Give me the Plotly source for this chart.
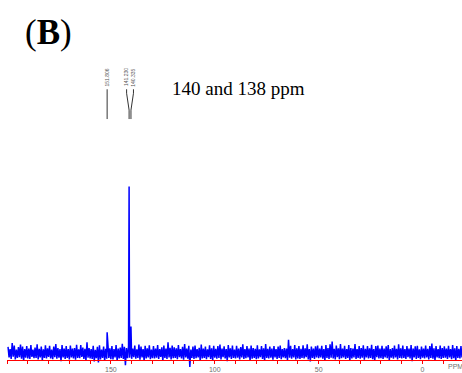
import numpy as np
import plotly.graph_objects as go

# 13C spectrum: upper and lower noise excursions, sampled every 1 ppm
# (upper from 199.5 ppm down, lower from 199.0 ppm down)
noise_hi = [
    3.8, 2.4, 6.0, 4.6, 2.2, 3.6, 5.1, 3.9, 2.5, 4.3,
    2.7, 4.8, 2.1, 3.3, 5.3, 2.6, 4.0, 2.3, 4.7, 2.9,
    4.4, 2.2, 3.9, 5.4, 3.1, 2.5, 4.8, 2.7, 4.2, 2.4,
    4.6, 2.8, 3.1, 5.0, 2.3, 4.9, 3.3, 2.6, 6.5, 3.0,
    2.5, 4.4, 2.0, 3.8, 4.7, 2.2, 4.0, 2.6, 5.2, 2.9,
    4.2, 2.4, 4.9, 2.7, 3.3, 5.6, 3.8, 3.0, 4.2, 3.1,
    2.8, 4.6, 2.3, 5.1, 4.0, 2.5, 4.4, 2.9, 4.7, 2.2,
    4.3, 2.7, 4.9, 2.4, 3.5, 4.6, 2.8, 6.5, 3.2, 4.6,
    3.5, 2.9, 4.8, 2.4, 3.8, 5.5, 2.7, 4.4, 2.2, 4.0,
    4.6, 2.5, 3.2, 5.1, 2.8, 4.0, 2.3, 4.7, 2.9, 4.4,
    2.6, 4.3, 5.2, 2.7, 4.1, 2.4, 4.8, 2.9, 4.5, 2.2,
    4.4, 2.8, 3.6, 5.3, 2.5, 4.2, 2.7, 4.6, 3.1, 2.6,
    4.7, 2.3, 4.3, 2.9, 5.5, 2.6, 4.0, 2.8, 4.2, 2.5,
    4.0, 4.6, 2.4, 3.1, 2.7, 8.0, 4.4, 2.5, 4.8, 2.9,
    4.2, 2.6, 4.7, 2.9, 5.3, 2.4, 3.9, 2.8, 4.1, 4.5,
    2.7, 4.4, 2.5, 4.8, 3.0, 5.3, 7.0, 2.6, 4.6, 2.9,
    5.5, 2.8, 4.4, 2.5, 4.9, 3.1, 2.7, 5.5, 2.4, 4.2,
    3.0, 4.7, 2.6, 4.3, 2.9, 5.0, 2.5, 4.2, 4.6, 2.8,
    4.4, 2.7, 4.1, 4.8, 2.4, 3.0, 4.5, 2.6, 5.3, 2.9,
    4.6, 2.5, 4.2, 2.8, 4.9, 2.7, 4.1, 4.4, 2.3, 4.0,
    2.8, 4.5, 2.6, 4.3, 5.7, 2.9, 4.2, 2.4, 4.6, 3.0,
    4.1, 2.7, 4.4, 2.5, 4.8, 2.9, 4.3, 2.6, 4.2,
]
noise_lo = [
    -2.6, -3.4, -2.1, -3.8, -2.9, -2.4, -3.3, -4.6, -2.7, -3.1,
    -3.5, -2.3, -3.0, -2.8, -3.7, -2.5, -4.4, -2.9, -3.2, -2.2,
    -3.1, -3.6, -2.4, -3.3, -2.7, -4.8, -2.6, -3.4, -2.9, -3.8,
    -2.5, -3.2, -3.9, -2.8, -3.0, -2.3, -3.5, -4.5, -2.7, -3.1,
    -3.4, -4.9, -3.0, -5.5, -3.7, -2.9, -4.6, -3.3, -2.8, -3.6,
    -3.8, -2.6, -4.7, -3.1, -2.9, -3.5, -7.2, -3.0, -2.7, -3.4,
    -2.4, -3.3, -2.8, -3.9, -2.6, -4.5, -3.1, -2.5, -3.6, -3.0,
    -3.2, -2.7, -3.5, -2.3, -4.6, -2.9, -3.4, -2.6, -3.8, -3.0,
    -2.8, -3.6, -2.4, -3.1, -3.9, -2.6, -3.3, -8.3, -2.9, -3.5,
    -3.0, -2.5, -4.7, -3.2, -2.8, -3.6, -2.4, -3.4, -4.4, -2.7,
    -3.3, -2.9, -3.7, -2.4, -3.1, -4.8, -2.6, -3.5, -2.8, -3.2,
    -2.7, -3.8, -2.5, -3.4, -3.0, -2.6, -4.5, -3.3, -2.9, -3.6,
    -3.1, -2.4, -3.5, -4.6, -2.8, -3.2, -2.7, -3.9, -2.5, -3.4,
    -2.9, -3.6, -2.6, -3.0, -4.4, -2.7, -3.3, -2.5, -3.8, -3.1,
    -3.5, -2.8, -3.2, -2.4, -3.7, -4.9, -2.9, -3.4, -2.6, -3.0,
    -2.6, -3.3, -4.5, -2.9, -3.5, -2.7, -3.1, -3.8, -2.4, -3.6,
    -3.0, -2.5, -3.4, -2.8, -4.7, -3.2, -2.6, -3.5, -2.9, -3.3,
    -2.7, -3.9, -2.5, -3.1, -2.8, -3.6, -4.6, -2.4, -3.2, -3.0,
    -3.4, -2.6, -3.0, -4.4, -2.7, -3.3, -2.5, -3.7, -2.9, -3.1,
    -2.8, -3.5, -2.4, -3.2, -4.8, -2.6, -3.4, -2.9, -3.6, -2.7,
    -3.1, -2.5, -3.7, -2.8, -3.3, -4.5, -2.6, -3.0, -3.5, -2.9,
    -2.7, -3.4, -2.5, -3.6, -3.0, -4.7, -2.8, -3.2, -2.6,
]

# picked peaks (ppm) and their intensities
peak_ppm = [151.806, 141.230, 140.335]
peak_height = [12.5, 100.0, 16.0]
peak_labels = ["151.806", "141.230", "140.335"]

# axis ticks
tick_vals = list(range(200, -20, -10))
tick_text = [str(v) if (v % 50 == 0 and v != 200) else "" for v in tick_vals]

# assemble the spectrum trace on its ppm grid
hi_ppm = 199.5 - np.arange(len(noise_hi))
lo_ppm = 199.0 - np.arange(len(noise_lo))
xs = np.concatenate([hi_ppm, lo_ppm, peak_ppm])
ys = np.concatenate([noise_hi, noise_lo, peak_height])
order = np.argsort(-xs)
xs, ys = xs[order], ys[order]

W, H = 462, 373
ML = 7


def py(pix):
    """Convert a pixel row (from the top) into paper y."""
    return (H - pix) / H


fig = go.Figure()
fig.add_trace(go.Scatter(
    x=xs, y=ys, mode="lines",
    line=dict(color="#0000ff", width=1.5),
    hoverinfo="skip", showlegend=False,
))

shapes = []
annotations = []
label_color = "#555555"
label_font = dict(family="Liberation Sans", size=5, color=label_color)

# single label above the 151.806 peak
annotations.append(dict(
    x=peak_ppm[0], xref="x", y=py(78), yref="paper",
    text=peak_labels[0], textangle=-90, showarrow=False,
    font=label_font, xanchor="center", yanchor="middle",
))
shapes.append(dict(type="line", xref="x", yref="paper",
                   x0=peak_ppm[0], x1=peak_ppm[0], y0=py(90), y1=py(120),
                   line=dict(color="#333333", width=1)))

# the close pair is fanned out so both labels can be read
pair_center = (peak_ppm[1] + peak_ppm[2]) / 2
spread = 1.65
label_x = [pair_center + spread, pair_center - spread]
for k, lx in enumerate(label_x):
    pk = peak_ppm[1 + k]
    annotations.append(dict(
        x=lx, xref="x", y=py(78), yref="paper",
        text=peak_labels[1 + k], textangle=-90, showarrow=False,
        font=label_font, xanchor="center", yanchor="middle",
    ))
    for (xa, ya, xb, yb) in [(lx, 90, lx, 94), (lx, 94, pk, 111), (pk, 111, pk, 120)]:
        shapes.append(dict(type="line", xref="x", yref="paper",
                           x0=xa, x1=xb, y0=py(ya), y1=py(yb),
                           line=dict(color="#333333", width=1)))

annotations.append(dict(
    x=(170 - ML) / (W - ML), xref="paper", y=py(89), yref="paper",
    text="140 and 138 ppm", showarrow=False,
    font=dict(family="Liberation Serif", size=19, color="black"),
    xanchor="left", yanchor="middle",
))
annotations.append(dict(
    x=(23 - ML) / (W - ML), xref="paper", y=py(33), yref="paper",
    text="(<b>B</b>)", showarrow=False,
    font=dict(family="Liberation Serif", size=35, color="black"),
    xanchor="left", yanchor="middle",
))
annotations.append(dict(
    x=(455.5 - ML) / (W - ML), xref="paper", y=py(369), yref="paper",
    text="PPM", showarrow=False,
    font=dict(family="Liberation Sans", size=7, color="#707070"),
    xanchor="center", yanchor="middle",
))

fig.update_layout(
    width=W, height=H,
    margin=dict(l=ML, r=0, t=0, b=0),
    paper_bgcolor="white", plot_bgcolor="white",
    xaxis=dict(
        range=[200, -19], showgrid=False, zeroline=False,
        showline=True, linecolor="red", linewidth=1,
        ticks="outside", tickcolor="red", ticklen=3, tickwidth=1,
        tickvals=tick_vals, ticktext=tick_text,
        tickfont=dict(family="Liberation Sans", size=7, color="#707070"),
        anchor="free", position=py(363),
    ),
    yaxis=dict(range=[-10.1, 211.9], visible=False),
    shapes=shapes,
    annotations=annotations,
)

fig.write_html("out.html")
